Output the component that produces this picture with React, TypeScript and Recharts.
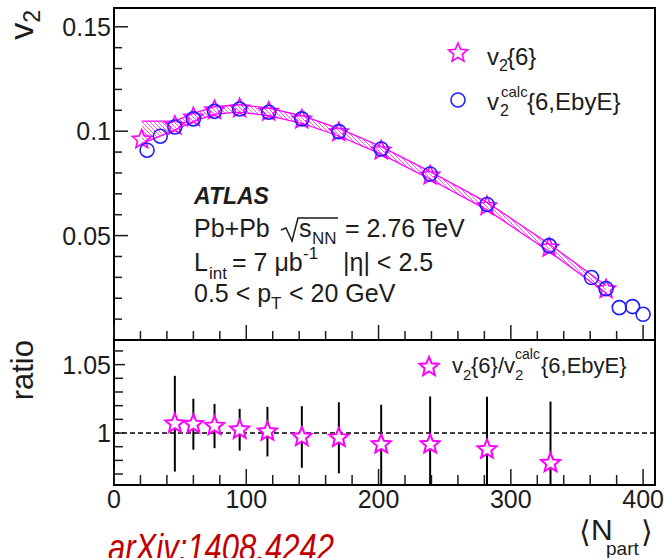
import {
  ComposedChart,
  Scatter,
  Area,
  XAxis,
  YAxis,
  ErrorBar,
  ReferenceLine,
  ReferenceArea,
} from "recharts"

// v2{6} vs <Npart>, with its systematic band
const nPartSix = [21, 46, 60, 76, 95, 117, 142, 170, 202, 239, 282, 329, 372]
const v2Six = [0.096, 0.1026, 0.1066, 0.11, 0.1109, 0.1093, 0.1056, 0.0995, 0.0908, 0.0788, 0.0641, 0.0442, 0.0243]
const v2SixSysLow = [0.094, 0.1005, 0.1047, 0.1082, 0.1091, 0.1075, 0.1038, 0.0977, 0.089, 0.077, 0.0623, 0.0424, 0.0225]
const v2SixSysHigh = [0.1048, 0.1048, 0.1085, 0.1118, 0.1127, 0.1111, 0.1074, 0.1013, 0.0926, 0.0806, 0.0659, 0.046, 0.0261]

// v2calc{6,EbyE}
const nPartCalc = [25, 35, 46, 60, 76, 95, 117, 142, 170, 202, 239, 282, 329, 361, 372, 382, 392, 400]
const v2Calc = [0.0909, 0.0976, 0.102, 0.1059, 0.1095, 0.1106, 0.1091, 0.1059, 0.0998, 0.0915, 0.0795, 0.0649, 0.0452, 0.0299, 0.0246, 0.0155, 0.016, 0.0123]

// ratio panel
const nPartRatio = [46, 60, 76, 95, 116, 142, 170, 202, 239, 282, 330]
const ratioValues = [1.0068, 1.0064, 1.0051, 1.0024, 1.001, 0.9971, 0.9965, 0.9917, 0.9917, 0.988, 0.978]
const ratioErrors = [0.035, 0.0186, 0.0162, 0.0153, 0.0181, 0.0225, 0.026, 0.029, 0.035, 0.0385, 0.045]

// axis ticks
const nPartTicks = [0, 20, 40, 60, 80, 100, 120, 140, 160, 180, 200, 220, 240, 260, 280, 300, 320, 340, 360, 380, 400]
const nPartMajor = [0, 100, 200, 300, 400]
const nPartLabels = ["0", "100", "200", "300", "400"]
const v2Ticks = [0.01, 0.02, 0.03, 0.04, 0.05, 0.06, 0.07, 0.08, 0.09, 0.1, 0.11, 0.12, 0.13, 0.14, 0.15]
const v2Major = [0.05, 0.1, 0.15]
const v2Labels = ["0.05", "0.1", "0.15"]
const ratioTicks = [0.97, 0.98, 0.99, 1, 1.01, 1.02, 1.03, 1.04, 1.05, 1.06]
const ratioMajor = [1, 1.05]
const ratioLabels = ["1", "1.05"]

const X_DOMAIN = [0, 409]
const V2_DOMAIN = [0, 0.159]
const RATIO_DOMAIN = [0.962, 1.068]

const FONT = "'Liberation Sans', Arial, sans-serif"
const INK = "#1c1c1c"
const MAGENTA = "#ff00ff"
const BLUE = "#1f1fff"

const sixData = nPartSix.map((n, i) => ({ n, v: v2Six[i], band: [v2SixSysLow[i], v2SixSysHigh[i]] }))
const calcData = nPartCalc.map((n, i) => ({ n, v: v2Calc[i] }))
// error bars stop at the frame, like the drawn histogram errors
const ratioData = nPartRatio.map((n, i) => ({
  n,
  v: ratioValues[i],
  err: [Math.min(ratioErrors[i], ratioValues[i] - RATIO_DOMAIN[0]), Math.min(ratioErrors[i], RATIO_DOMAIN[1] - ratioValues[i])],
}))

const majorIndex = (list: number[], v: number) => list.findIndex((m) => Math.abs(m - v) < 1e-6)

function starPoints(cx: number, cy: number, R: number) {
  const r = R * 0.45
  const pts: string[] = []
  for (let k = 0; k < 10; k++) {
    const rad = k % 2 === 0 ? R : r
    const a = -Math.PI / 2 + (k * Math.PI) / 5
    pts.push(`${cx + rad * Math.cos(a)},${cy + rad * Math.sin(a)}`)
  }
  return pts.join(" ")
}

function Star({ cx, cy, R = 10, fill = "none", width = 1.6 }: any) {
  return <polygon points={starPoints(cx, cy, R)} fill={fill} stroke={MAGENTA} strokeWidth={width} strokeLinejoin="miter" />
}

function Ring({ cx, cy }: any) {
  return <circle cx={cx} cy={cy} r={7} fill="none" stroke={BLUE} strokeWidth={1.6} />
}

// ticks drawn inside the frame, ROOT style
function XTickTop({ x, y, payload }: any) {
  const major = majorIndex(nPartMajor, payload.value) >= 0
  return <line x1={x} x2={x} y1={y} y2={y - (major ? 15 : 9)} stroke={INK} strokeWidth={1.5} />
}

function XTickBottom({ x, y, payload }: any) {
  const i = majorIndex(nPartMajor, payload.value)
  return (
    <g>
      <line x1={x} x2={x} y1={y} y2={y - (i >= 0 ? 16 : 10)} stroke={INK} strokeWidth={1.5} />
      {i >= 0 && (
        <text x={x} y={y + 23} textAnchor="middle" fontSize={25} fontFamily={FONT} fill={INK}>
          {nPartLabels[i]}
        </text>
      )}
    </g>
  )
}

function V2Tick({ x, y, payload }: any) {
  const i = majorIndex(v2Major, payload.value)
  return (
    <g>
      <line x1={x} x2={x + (i >= 0 ? 14 : 8)} y1={y} y2={y} stroke={INK} strokeWidth={1.5} />
      {i >= 0 && (
        <text x={x - 3} y={y + 9} textAnchor="end" fontSize={25} fontFamily={FONT} fill={INK}>
          {v2Labels[i]}
        </text>
      )}
    </g>
  )
}

function RatioTick({ x, y, payload }: any) {
  const i = majorIndex(ratioMajor, payload.value)
  return (
    <g>
      <line x1={x} x2={x + (i >= 0 ? 11 : 9)} y1={y} y2={y} stroke={INK} strokeWidth={1.5} />
      {i >= 0 && (
        <text x={x - 3} y={y + 9} textAnchor="end" fontSize={25} fontFamily={FONT} fill={INK}>
          {ratioLabels[i]}
        </text>
      )}
    </g>
  )
}

function Labels() {
  const t = { fontFamily: FONT, fill: INK }
  return (
    <svg width={664} height={558} style={{ position: "absolute", left: 0, top: 0, pointerEvents: "none" }}>
      {/* axis titles */}
      <text transform="translate(33,10) rotate(-90)" textAnchor="end" fontSize={34} {...t}>
        v<tspan fontSize={23} dy={7}>2</tspan>
      </text>
      <text transform="translate(33,340) rotate(-90)" textAnchor="end" fontSize={31} {...t}>
        ratio
      </text>
      <text x={579} y={542} fontSize={30} fontFamily="'DejaVu Sans', sans-serif" fill={INK}>⟨</text>
      <text x={591} y={540} fontSize={30} {...t}>N</text>
      <text x={606} y={555} fontSize={19} {...t}>part</text>
      <text x={641} y={542} fontSize={30} fontFamily="'DejaVu Sans', sans-serif" fill={INK}>⟩</text>

      {/* upper legend */}
      <Star cx={458} cy={53} R={10} />
      <text x={487} y={65} fontSize={24} {...t}>v</text>
      <text x={499} y={71} fontSize={16} {...t}>2</text>
      <text x={507} y={65} fontSize={24} {...t}>{"{6}"}</text>
      <Ring cx={458} cy={100} />
      <text x={487} y={110} fontSize={24} {...t}>v</text>
      <text x={500} y={116} fontSize={16} {...t}>2</text>
      <text x={501} y={97} fontSize={15} {...t}>calc</text>
      <text x={527} y={110} fontSize={24} {...t}>{"{6,EbyE}"}</text>

      {/* experiment label */}
      <text x={194} y={204} fontSize={23} fontWeight="bold" fontStyle="italic" {...t}>ATLAS</text>
      <text x={194} y={237} fontSize={25} {...t}>Pb+Pb</text>
      <path d="M281,230 L286,228 L292,241 L298,218 L338,218" fill="none" stroke={INK} strokeWidth={1.5} />
      <text x={299} y={237} fontSize={25} {...t}>s</text>
      <text x={312} y={244} fontSize={17} {...t}>NN</text>
      <text x={345} y={237} fontSize={25} {...t}>= 2.76 TeV</text>
      <text x={194} y={271} fontSize={25} {...t}>L</text>
      <text x={209} y={279} fontSize={17} {...t}>int</text>
      <text x={232} y={271} fontSize={25} {...t}>= 7 μb</text>
      <text x={303} y={259} fontSize={17} {...t}>-1</text>
      <text x={343} y={271} fontSize={25} {...t}>|η| &lt; 2.5</text>
      <text x={194} y={302} fontSize={25} {...t}>0.5 &lt; p</text>
      <text x={271} y={309} fontSize={17} {...t}>T</text>
      <text x={289} y={302} fontSize={25} {...t}>&lt; 20 GeV</text>

      {/* lower legend */}
      <Star cx={429} cy={367} R={10} width={2} />
      <text x={452} y={373} fontSize={22} {...t}>v</text>
      <text x={463} y={380} fontSize={15} {...t}>2</text>
      <text x={471} y={373} fontSize={22} {...t}>{"{6}/v"}</text>
      <text x={515} y={380} fontSize={15} {...t}>2</text>
      <text x={515} y={359} fontSize={14} {...t}>calc</text>
      <text x={541} y={373} fontSize={22} {...t}>{"{6,EbyE}"}</text>

      <text x={108} y={561} fontSize={38} fontStyle="italic" fontFamily={FONT} fill="#c00000" textLength={226} lengthAdjust="spacingAndGlyphs">
        arXiv:1408.4242
      </text>
    </svg>
  )
}

export default function App() {
  return (
    <div style={{ position: "absolute", left: 0, top: 0, width: 664, height: 558, background: "#fff", overflow: "hidden" }}>
      <div style={{ position: "absolute", left: 0, top: 0 }}>
        <ComposedChart width={664} height={350} data={sixData} margin={{ top: 8, right: 9, bottom: 9, left: 113 }}>
          <defs>
            <pattern id="sysHatch" width={4} height={4} patternUnits="userSpaceOnUse">
              <path d="M-1,-1 L5,5 M-1,3 L1,5 M3,-1 L5,1" stroke="#ff55ff" strokeWidth={1} />
            </pattern>
          </defs>
          <XAxis
            type="number"
            dataKey="n"
            domain={X_DOMAIN}
            ticks={nPartTicks}
            interval={0}
            allowDataOverflow
            height={1}
            tickSize={0}
            tickMargin={0}
            axisLine={false}
            tickLine={false}
            tick={<XTickTop />}
          />
          <YAxis
            type="number"
            domain={V2_DOMAIN}
            ticks={v2Ticks}
            interval={0}
            allowDataOverflow
            width={1}
            tickSize={0}
            tickMargin={0}
            axisLine={false}
            tickLine={false}
            tick={<V2Tick />}
          />
          <Area
            type="linear"
            dataKey="band"
            stroke={MAGENTA}
            strokeWidth={1.3}
            fill="url(#sysHatch)"
            fillOpacity={1}
            dot={false}
            activeDot={false}
            isAnimationActive={false}
          />
          <Scatter data={sixData} dataKey="v" shape={(p: any) => <Star cx={p.cx} cy={p.cy} />} isAnimationActive={false} />
          <Scatter data={calcData} dataKey="v" shape={(p: any) => <Ring cx={p.cx} cy={p.cy} />} isAnimationActive={false} />
          <ReferenceArea x1={X_DOMAIN[0]} x2={X_DOMAIN[1]} y1={V2_DOMAIN[0]} y2={V2_DOMAIN[1]} fill="none" stroke="#000" strokeWidth={2} />
        </ComposedChart>
      </div>
      <div style={{ position: "absolute", left: 0, top: 330 }}>
        <ComposedChart width={664} height={228} margin={{ top: 10, right: 9, bottom: 72, left: 113 }}>
          <XAxis
            type="number"
            dataKey="n"
            domain={X_DOMAIN}
            ticks={nPartTicks}
            interval={0}
            allowDataOverflow
            height={1}
            tickSize={0}
            tickMargin={0}
            axisLine={false}
            tickLine={false}
            tick={<XTickBottom />}
          />
          <YAxis
            type="number"
            domain={RATIO_DOMAIN}
            ticks={ratioTicks}
            interval={0}
            allowDataOverflow
            width={1}
            tickSize={0}
            tickMargin={0}
            axisLine={false}
            tickLine={false}
            tick={<RatioTick />}
          />
          <ReferenceLine y={1} stroke="#000" strokeWidth={1.5} strokeDasharray="5 3" />
          <Scatter
            data={ratioData}
            dataKey="v"
            shape={(p: any) => <Star cx={p.cx} cy={p.cy} R={10} fill="#fff" width={2} />}
            isAnimationActive={false}
          >
            <ErrorBar dataKey="err" direction="y" width={0} stroke="#000" strokeWidth={2} isAnimationActive={false} />
          </Scatter>
          <ReferenceArea x1={X_DOMAIN[0]} x2={X_DOMAIN[1]} y1={RATIO_DOMAIN[0]} y2={RATIO_DOMAIN[1]} fill="none" stroke="#000" strokeWidth={2} />
        </ComposedChart>
      </div>
      <Labels />
    </div>
  )
}
